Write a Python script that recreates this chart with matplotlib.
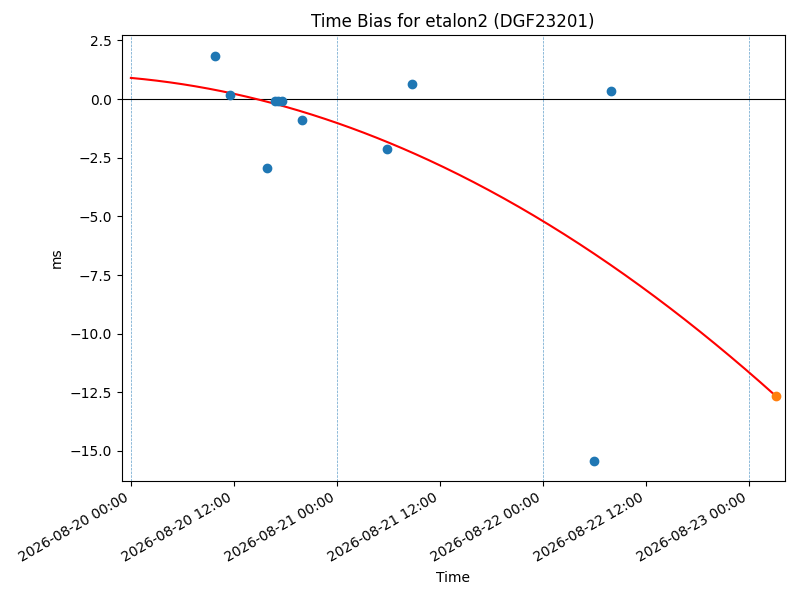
import matplotlib
matplotlib.use("Agg")
import matplotlib.pyplot as plt
import matplotlib.dates as mdates
import numpy as np
import pandas as pd

# Observed time-bias points (blue)
obs_times = [
    "2026-08-20 09:50", "2026-08-20 11:32", "2026-08-20 15:49",
    "2026-08-20 16:47", "2026-08-20 17:10", "2026-08-20 17:34",
    "2026-08-20 19:55", "2026-08-21 05:50", "2026-08-21 08:44",
    "2026-08-22 05:57", "2026-08-22 07:56",
]
obs_ms = [1.84, 0.16, -2.94, -0.10, -0.10, -0.10, -0.91, -2.14, 0.63, -15.42, 0.33]

# Predicted point (orange)
pred_time = "2026-08-23 03:05"

# Quadratic fit coefficients (ms vs hours since fit start)
fit_start = "2026-08-20 00:00"
fit_coeffs = [-0.001966, -0.0328, 0.9]  # c2, c1, c0

# Vertical day markers
day_lines = ["2026-08-20", "2026-08-21", "2026-08-22", "2026-08-23"]

t_obs = pd.to_datetime(obs_times)
t_pred = pd.Timestamp(pred_time)
t0 = pd.Timestamp(fit_start)

hours = np.linspace(0, (t_pred - t0).total_seconds() / 3600.0, 300)
fit_t = t0 + pd.to_timedelta(hours, unit="h")
fit_y = np.polyval(fit_coeffs, hours)
pred_y = np.polyval(fit_coeffs, hours[-1])

fig, ax = plt.subplots(figsize=(8, 6), dpi=100)
for d in day_lines:
    ax.axvline(pd.Timestamp(d), color="C0", linestyle="--", linewidth=0.5, alpha=0.7)
ax.axhline(0, color="black", linewidth=0.8)
ax.scatter(t_obs, obs_ms, color="C0", zorder=3)
ax.plot(fit_t, fit_y, color="red", zorder=2)
ax.scatter([t_pred], [pred_y], color="C1", zorder=3)

ax.set_xlim(t0 - pd.Timedelta(hours=1.08), t0 + pd.Timedelta(hours=76.16))
ax.set_ylim(-16.28, 2.73)
ax.xaxis.set_major_locator(mdates.HourLocator(byhour=[0, 12]))
ax.xaxis.set_major_formatter(mdates.DateFormatter("%Y-%m-%d %H:%M"))
ax.set_title("Time Bias for etalon2 (DGF23201)")
ax.set_xlabel("Time")
ax.set_ylabel("ms")
fig.autofmt_xdate()
fig.subplots_adjust(left=0.152, right=0.981, top=0.9417, bottom=0.1983)
fig.savefig("out.png")
